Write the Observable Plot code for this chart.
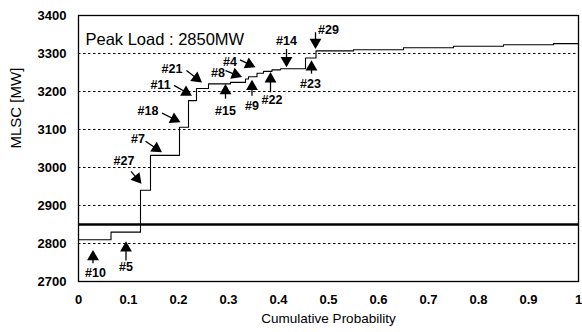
<!DOCTYPE html>
<html>
<head>
<meta charset="utf-8">
<script src="https://cdn.jsdelivr.net/npm/d3@7"></script>
<script src="https://cdn.jsdelivr.net/npm/@observablehq/plot@0.6"></script>
<style>
  html, body { margin: 0; padding: 0; background: #fff; }
  svg { display: block; }
</style>
</head>
<body>
<div id="chart"></div>
<script>
// ---- data ----
const stepX = [0, 0.065, 0.124, 0.144, 0.202, 0.220, 0.236, 0.260, 0.304, 0.334, 0.340, 0.357, 0.370, 0.387, 0.404, 0.454, 0.475, 0.55, 0.65, 0.75, 0.85, 0.95, 1.0];
const stepY = [2810, 2830, 2940, 3032, 3106, 3176, 3208, 3220, 3224, 3233, 3239, 3248, 3253, 3257, 3260, 3288, 3307, 3310, 3315, 3319, 3323, 3326, 3328];
const peakLoad = 2850;
const peakText = "Peak Load : 2850MW";

const arrowLabel = ["#10", "#5", "#27", "#7", "#18", "#11", "#21", "#8", "#4", "#15", "#9", "#22", "#14", "#23", "#29"];
const tipX  = [0.029, 0.095, 0.126, 0.167, 0.204, 0.227, 0.247, 0.327, 0.354, 0.294, 0.347, 0.384, 0.416, 0.466, 0.474];
const tipY  = [2783, 2806, 2957, 3040, 3119, 3189, 3224, 3238, 3264, 3220, 3231, 3251, 3264, 3282, 3312];
const tailX = [0.029, 0.095, 0.105, 0.134, 0.167, 0.191, 0.216, 0.294, 0.323, 0.294, 0.347, 0.384, 0.416, 0.466, 0.474];
const tailY = [2748, 2755, 2990, 3069, 3143, 3216, 3255, 3255, 3283, 3181, 3189, 3198, 3312, 3247, 3356];
const labelX = [0.034, 0.095, 0.091, 0.119, 0.139, 0.164, 0.187, 0.279, 0.303, 0.294, 0.347, 0.387, 0.416, 0.464, 0.500];
const labelY = [2722, 2738, 3016, 3074, 3150, 3218, 3260, 3249, 3277, 3150, 3161, 3178, 3334, 3220, 3361];

const xTicks = [0, 0.1, 0.2, 0.3, 0.4, 0.5, 0.6, 0.7, 0.8, 0.9, 1];
const yTicks = [2700, 2800, 2900, 3000, 3100, 3200, 3300, 3400];
const gridY = [2800, 2900, 3000, 3100, 3200, 3300];
const xLabel = "Cumulative Probability";
const yLabel = "MLSC [MW]";

// ---- layout ----
const W = 582, H = 332;
const mL = 78, mR = 4, mT = 15, mB = 51;
const xDomain = [0, 1], yDomain = [2700, 3400];

const steps = stepX.map((x, i) => ({x, y: stepY[i]}));

// scales used to orient the arrow heads in screen space
const sx = Plot.scale({x: {domain: xDomain, range: [mL, W - mR]}});
const sy = Plot.scale({y: {domain: yDomain, range: [H - mB, mT]}});
const R = 4.4;
const back = 2 * R * Math.sqrt(Math.PI / (3 * Math.sqrt(3)));
const arrows = arrowLabel.map((label, i) => {
  const px1 = sx.apply(tailX[i]), py1 = sy.apply(tailY[i]);
  const px2 = sx.apply(tipX[i]), py2 = sy.apply(tipY[i]);
  const dx = px2 - px1, dy = py2 - py1, len = Math.hypot(dx, dy);
  const ux = dx / len, uy = dy / len;
  return {
    label,
    x1: tailX[i], y1: tailY[i],
    hx: sx.invert(px2 - ux * back), hy: sy.invert(py2 - uy * back),
    rot: Math.atan2(dx, -dy) * 180 / Math.PI,
    lx: labelX[i], ly: labelY[i]
  };
});

const chart = Plot.plot({
  width: W,
  height: H,
  marginLeft: mL,
  marginRight: mR,
  marginTop: mT,
  marginBottom: mB,
  style: {fontFamily: "'Liberation Sans', Arial, sans-serif", fontSize: "13px", fontWeight: "bold", color: "#000", background: "#fff"},
  x: {domain: xDomain, ticks: xTicks, tickFormat: d => String(+d.toFixed(1)), tickSize: 0, tickPadding: 13, label: null},
  y: {domain: yDomain, ticks: yTicks, tickFormat: d => String(d), tickSize: 0, tickPadding: 12, label: null},
  marks: [
    Plot.ruleY(gridY, {stroke: "#000", strokeWidth: 1, strokeDasharray: "2.5,2.5"}),
    Plot.ruleY([peakLoad], {stroke: "#000", strokeWidth: 2.6}),
    Plot.line(steps, {x: "x", y: "y", curve: "step-after", stroke: "#000", strokeWidth: 1.1}),
    Plot.link(arrows, {x1: "x1", y1: "y1", x2: "hx", y2: "hy", stroke: "#000", strokeWidth: 1.3}),
    Plot.dot(arrows, {x: "hx", y: "hy", symbol: "triangle", r: R, fill: "#000", stroke: null, rotate: "rot"}),
    Plot.text(arrows, {x: "lx", y: "ly", text: "label", fontSize: 12.5, fontWeight: "bold", fill: "#000"}),
    Plot.text([peakText], {frameAnchor: "top-left", dx: 7, dy: 18, fontSize: 16.5, fontWeight: "normal", textAnchor: "start", fill: "#000"}),
    Plot.frame({stroke: "#000", strokeWidth: 1.3}),
    Plot.text([xLabel], {frameAnchor: "bottom", dy: 41, fontSize: 13.5, fontWeight: "normal", fill: "#000"}),
    Plot.text([yLabel], {frameAnchor: "left", dx: -62, rotate: -90, fontSize: 15, fontWeight: "normal", fill: "#000"})
  ]
});

document.getElementById("chart").appendChild(chart);
</script>
</body>
</html>
